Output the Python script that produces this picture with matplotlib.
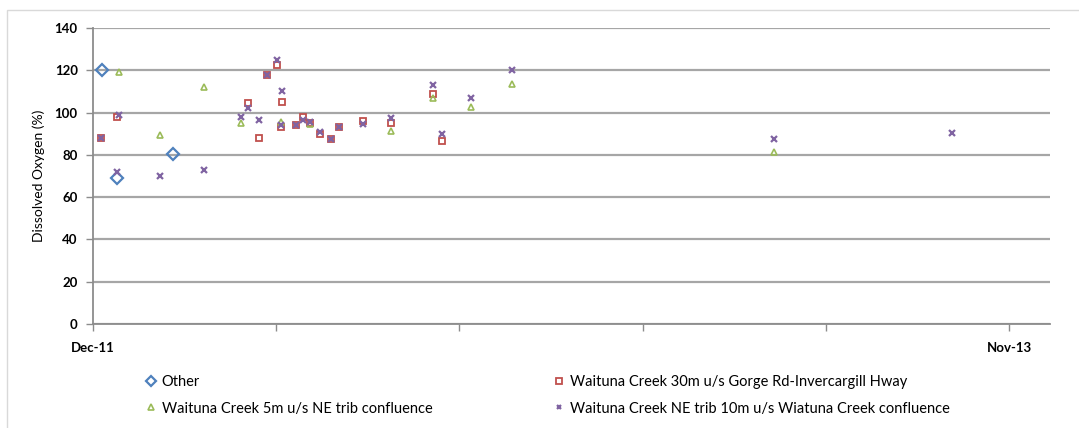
import matplotlib
matplotlib.use("Agg")
import matplotlib.pyplot as plt
import matplotlib.dates as mdates
from matplotlib.patches import Rectangle
import pandas as pd

# ---------------- data ----------------
other_dates = ["2011-12-08", "2011-12-19", "2012-01-31"]
other_vals = [120, 69, 80.5]

gorge_dates = ["2011-12-07", "2011-12-19", "2012-03-29", "2012-04-06", "2012-04-12",
               "2012-04-20", "2012-04-24", "2012-04-23", "2012-05-04", "2012-05-10",
               "2012-05-15", "2012-05-23", "2012-05-31", "2012-06-06", "2012-06-25",
               "2012-07-16", "2012-08-17", "2012-08-24"]
gorge_vals = [88, 98, 104.5, 88, 118,
              122.5, 105, 93, 94, 98,
              95, 90, 87.5, 93, 96,
              95, 109, 86.5]

ne5_dates = ["2011-12-21", "2012-01-21", "2012-02-24", "2012-03-23", "2012-04-23",
             "2012-05-15", "2012-07-16", "2012-08-17", "2012-09-15", "2012-10-17",
             "2013-05-05"]
ne5_vals = [119, 89.5, 112, 95, 95.5,
            94.5, 91.5, 107, 102.5, 113.5,
            81.5]

netrib_dates = ["2011-12-07", "2011-12-19", "2011-12-21", "2012-01-21", "2012-02-24",
                "2012-03-23", "2012-03-29", "2012-04-06", "2012-04-12", "2012-04-20",
                "2012-04-24", "2012-04-23", "2012-05-04", "2012-05-10", "2012-05-15",
                "2012-05-23", "2012-05-31", "2012-06-06", "2012-06-25", "2012-07-16",
                "2012-08-17", "2012-08-24", "2012-09-15", "2012-10-17", "2013-05-05",
                "2013-09-18"]
netrib_vals = [88, 72, 99, 70, 73,
               98, 102, 96.5, 118, 125,
               110, 94, 94, 96.5, 95.5,
               91, 87.5, 93, 94.5, 97.5,
               113, 90, 107, 120, 87.5,
               90.5]

series_labels = ["Other",
                 "Waituna Creek 30m u/s Gorge Rd-Invercargill Hway",
                 "Waituna Creek 5m u/s NE trib confluence",
                 "Waituna Creek NE trib 10m u/s Wiatuna Creek confluence"]

y_ticks = [0, 20, 40, 60, 80, 100, 120, 140]
x_start, x_end = "2011-12-01", "2013-11-01"
x_tick_labels = ["Dec-11", "Nov-13"]

# ---------------- figure ----------------
plt.rcParams['font.family'] = ['Lato', 'DejaVu Sans']
W, H = 1079, 428
fig = plt.figure(figsize=(W / 100, H / 100), dpi=100)

# outer chart frame
fig.patches.append(Rectangle((7 / W, -0.1), 1.2, 1 - 10 / H + 0.1,
                             transform=fig.transFigure, fill=False,
                             edgecolor="#d9d9d9", linewidth=1.0, zorder=0))

ax = fig.add_axes([93 / W, 1 - 324 / H, (1050 - 93) / W, (324 - 28) / H])

blue, red, green, purple = "#4F81BD", "#C0504D", "#9BBB59", "#8064A2"

d0 = pd.Timestamp(x_start)
d1 = pd.Timestamp(x_end)
span = (d1 - d0)
xmax = d1 + span * (41 / 916)

h_other, = ax.plot(pd.to_datetime(other_dates), other_vals, linestyle="none",
                   marker="D", markersize=6.5, markerfacecolor="none",
                   markeredgecolor=blue, markeredgewidth=1.6, label=series_labels[0], zorder=4)
h_gorge, = ax.plot(pd.to_datetime(gorge_dates), gorge_vals, linestyle="none",
                   marker="s", markersize=5, markerfacecolor="none",
                   markeredgecolor=red, markeredgewidth=1.3, label=series_labels[1], zorder=3)
h_ne5, = ax.plot(pd.to_datetime(ne5_dates), ne5_vals, linestyle="none",
                 marker="^", markersize=5, markerfacecolor="none",
                 markeredgecolor=green, markeredgewidth=1.2, label=series_labels[2], zorder=3)
h_net, = ax.plot(pd.to_datetime(netrib_dates), netrib_vals, linestyle="none",
                 marker="x", markersize=4.5, markeredgecolor=purple,
                 markeredgewidth=1.6, label=series_labels[3], zorder=5)

ax.set_ylim(0, 140)
ax.set_yticks(y_ticks)
ax.set_xlim(mdates.date2num(d0), mdates.date2num(xmax))
ticks = [mdates.date2num(d0 + span * (i / 5)) for i in range(6)]
ax.set_xticks(ticks)
ax.set_xticklabels([x_tick_labels[0], "", "", "", "", x_tick_labels[1]])

ax.grid(axis="y", color="#a6a6a6", linewidth=1.6, zorder=1)
ax.set_axisbelow(True)
for s in ["top", "right"]:
    ax.spines[s].set_visible(False)
for s in ["left", "bottom"]:
    ax.spines[s].set_color("#8c8c8c")
    ax.spines[s].set_linewidth(1.3)

ax.tick_params(axis="both", direction="out", length=5, width=1, color="#8c8c8c",
               labelsize=9.5, labelcolor="#000000")
ax.tick_params(axis="x", pad=8)
ax.tick_params(axis="y", pad=6)
for lab in ax.get_xticklabels() + ax.get_yticklabels():
    lab.set_fontweight("bold")

ax.set_ylabel("Dissolved Oxygen (%)", fontsize=10, labelpad=7)

handles = [h_other, h_ne5, h_gorge, h_net]
labels = [series_labels[0], series_labels[2], series_labels[1], series_labels[3]]
leg = fig.legend(handles, labels, loc="upper left",
                 bbox_to_anchor=(134 / W, 1 - 362 / H), ncol=2, frameon=False,
                 fontsize=10.5, handlelength=0.5, handletextpad=0.5,
                 columnspacing=8.4, labelspacing=0.85, markerscale=0.75)

fig.savefig("out.png", dpi=100)
